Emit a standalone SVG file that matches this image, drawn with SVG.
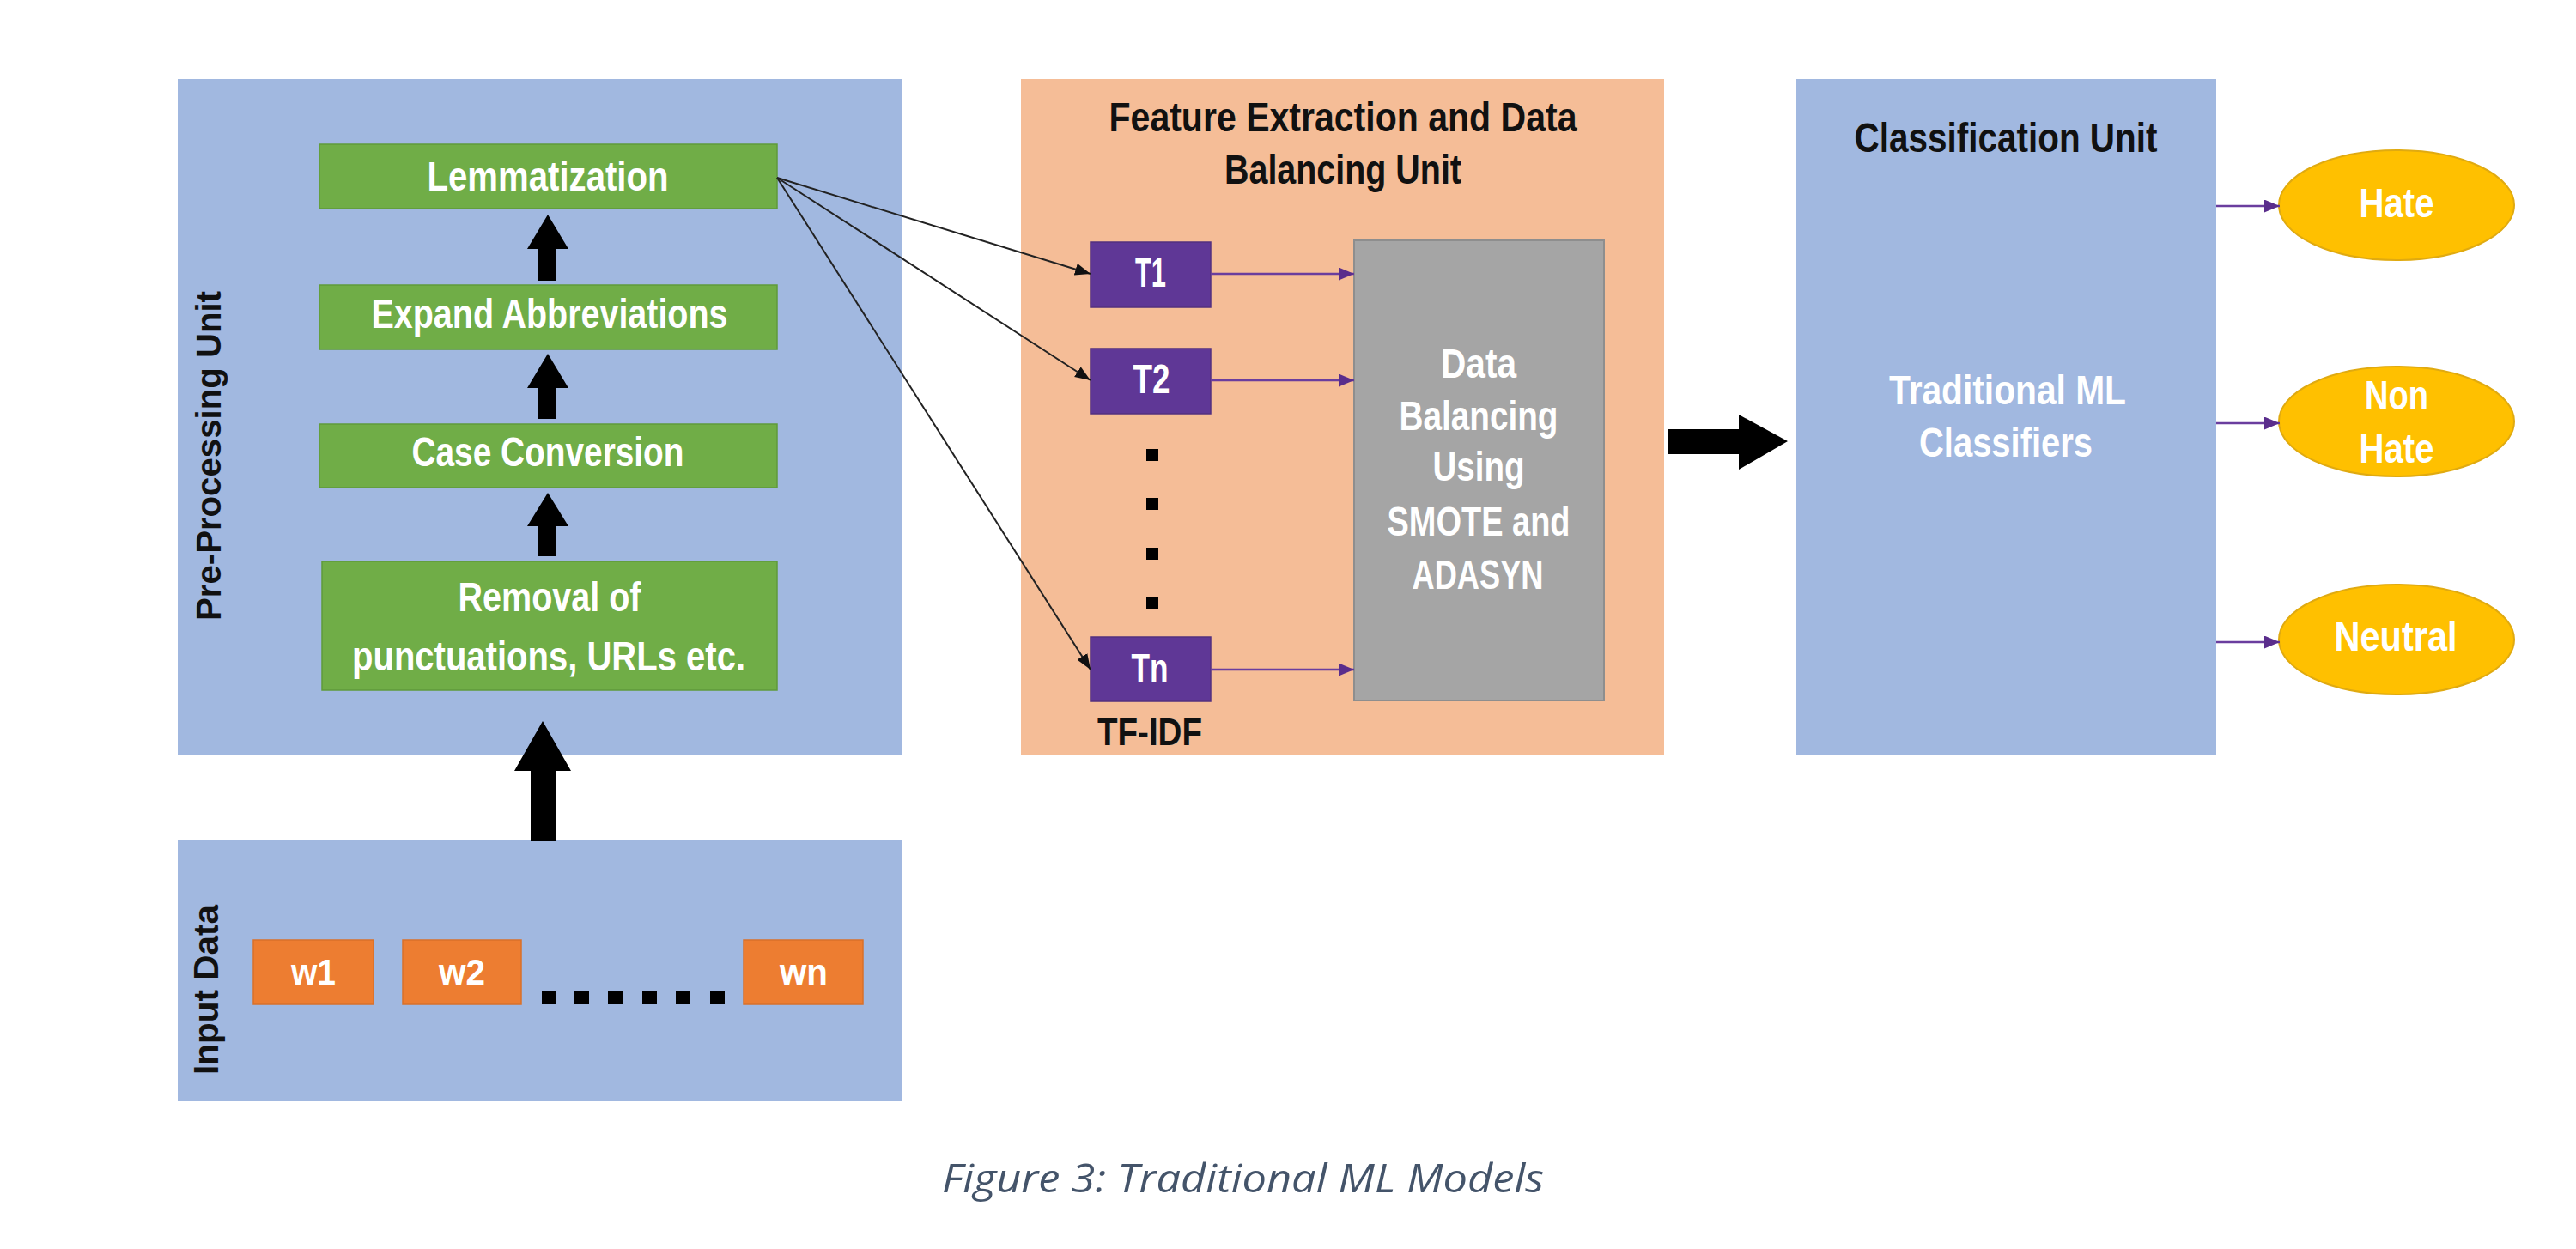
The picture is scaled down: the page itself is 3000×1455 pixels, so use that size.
<svg xmlns="http://www.w3.org/2000/svg" width="3000" height="1455" viewBox="0 0 3000 1455">
<style>
.unit{fill:#A1B8E0}
.feat{fill:#F5BD97}
.green{fill:#70AD47;stroke:#5F9A3B;stroke-width:1.5}
.word{fill:#ED7D31;stroke:#D9702A;stroke-width:1.5}
.tbox{fill:#5F3796;stroke:#53307F;stroke-width:1.5}
.gray{fill:#A5A5A5;stroke:#8E8E8E;stroke-width:2}
.oval{fill:#FFC000;stroke:#E0AA10;stroke-width:2}
.lbl{font-family:"Liberation Sans Narrow","Liberation Sans",Arial,sans-serif;font-weight:bold;font-size:48px;text-anchor:middle}
.w{fill:#FFFFFF}
.k{fill:#111111}
.vert{font-family:"Liberation Sans",Arial,sans-serif;font-weight:bold;font-size:41px;text-anchor:middle;fill:#111111}
.cap{font-family:"Open Sans","Liberation Sans",sans-serif;font-style:italic;font-size:46px;fill:#44546A;text-anchor:start}
.blk{fill:#000000}
.thin{stroke:#222222;stroke-width:2;fill:none}
.purp{stroke:#6A3D9E;stroke-width:2.5;fill:none}
</style>
<defs>
<marker id="ah" markerUnits="userSpaceOnUse" markerWidth="20" markerHeight="16" refX="18" refY="7" orient="auto">
<path d="M0,0 L18,7 L0,14 Z" fill="#111111"/>
</marker>
<marker id="ap" markerUnits="userSpaceOnUse" markerWidth="20" markerHeight="16" refX="18" refY="7.5" orient="auto">
<path d="M0,0 L18,7.5 L0,15 Z" fill="#5A2D8C"/>
</marker>
</defs>

<g id="preprocessing-unit">
<rect class="unit" x="207" y="92" width="844" height="788"/>
<text class="vert" transform="translate(257,531) rotate(-90)" textLength="384" lengthAdjust="spacingAndGlyphs">Pre-Processing Unit</text>
</g>

<g id="lemmatization">
<rect class="green" x="372" y="168" width="533" height="75"/>
<text class="lbl w" x="638" y="222" textLength="281" lengthAdjust="spacingAndGlyphs">Lemmatization</text>
</g>
<g id="expand-abbreviations">
<rect class="green" x="372" y="332" width="533" height="75"/>
<text class="lbl w" x="640" y="382" textLength="415" lengthAdjust="spacingAndGlyphs">Expand Abbreviations</text>
</g>
<g id="case-conversion">
<rect class="green" x="372" y="494" width="533" height="74"/>
<text class="lbl w" x="638" y="543" textLength="317" lengthAdjust="spacingAndGlyphs">Case Conversion</text>
</g>
<g id="removal">
<rect class="green" x="375" y="654" width="530" height="150"/>
<text class="lbl w" x="640" y="712" textLength="213" lengthAdjust="spacingAndGlyphs">Removal of</text>
<text class="lbl w" x="639" y="781" textLength="458" lengthAdjust="spacingAndGlyphs">punctuations, URLs etc.</text>
</g>

<g id="input-data">
<rect class="unit" x="207" y="978" width="844" height="305"/>
<text class="vert" transform="translate(254,1153) rotate(-90)" textLength="198" lengthAdjust="spacingAndGlyphs">Input Data</text>
<rect class="word" x="295" y="1095" width="140" height="75"/>
<text class="lbl w" x="365" y="1147" font-size="42" style="font-size:42px" textLength="52" lengthAdjust="spacingAndGlyphs">w1</text>
<rect class="word" x="469" y="1095" width="138" height="75"/>
<text class="lbl w" x="538" y="1147" style="font-size:42px" textLength="54" lengthAdjust="spacingAndGlyphs">w2</text>
<rect class="word" x="866" y="1095" width="139" height="75"/>
<text class="lbl w" x="936" y="1147" style="font-size:42px" textLength="56" lengthAdjust="spacingAndGlyphs">wn</text>
<rect class="blk" x="631" y="1154" width="17" height="16"/>
<rect class="blk" x="669" y="1154" width="17" height="16"/>
<rect class="blk" x="708" y="1154" width="17" height="16"/>
<rect class="blk" x="748" y="1154" width="17" height="16"/>
<rect class="blk" x="787" y="1154" width="17" height="16"/>
<rect class="blk" x="827" y="1154" width="17" height="16"/>
</g>

<g id="feature-extraction-unit">
<rect class="feat" x="1189" y="92" width="749" height="788"/>
<text class="lbl k" x="1564" y="153" textLength="545" lengthAdjust="spacingAndGlyphs">Feature Extraction and Data</text>
<text class="lbl k" x="1564" y="214" textLength="276" lengthAdjust="spacingAndGlyphs">Balancing Unit</text>
<rect class="blk" x="1335" y="523" width="14" height="14"/>
<rect class="blk" x="1335" y="580" width="14" height="14"/>
<rect class="blk" x="1335" y="638" width="14" height="14"/>
<rect class="blk" x="1335" y="695" width="14" height="14"/>
<text class="lbl k" x="1339" y="868" style="font-size:45px" textLength="122" lengthAdjust="spacingAndGlyphs">TF-IDF</text>
</g>
<g id="t1">
<rect class="tbox" x="1270" y="282" width="140" height="76"/>
<text class="lbl w" x="1340" y="334" textLength="36" lengthAdjust="spacingAndGlyphs">T1</text>
</g>
<g id="t2">
<rect class="tbox" x="1270" y="406" width="140" height="76"/>
<text class="lbl w" x="1341" y="458" textLength="43" lengthAdjust="spacingAndGlyphs">T2</text>
</g>
<g id="tn">
<rect class="tbox" x="1270" y="742" width="140" height="75"/>
<text class="lbl w" x="1339" y="795" textLength="43" lengthAdjust="spacingAndGlyphs">Tn</text>
</g>
<g id="data-balancing">
<rect class="gray" x="1577" y="280" width="291" height="536"/>
<text class="lbl w" x="1722" y="440" textLength="88" lengthAdjust="spacingAndGlyphs">Data</text>
<text class="lbl w" x="1722" y="501" textLength="185" lengthAdjust="spacingAndGlyphs">Balancing</text>
<text class="lbl w" x="1722" y="560" textLength="107" lengthAdjust="spacingAndGlyphs">Using</text>
<text class="lbl w" x="1722" y="624" textLength="213" lengthAdjust="spacingAndGlyphs">SMOTE and</text>
<text class="lbl w" x="1721" y="686" textLength="153" lengthAdjust="spacingAndGlyphs">ADASYN</text>
</g>

<g id="classification-unit">
<rect class="unit" x="2092" y="92" width="489" height="788"/>
<text class="lbl k" x="2336" y="177" textLength="353" lengthAdjust="spacingAndGlyphs">Classification Unit</text>
<text class="lbl w" x="2338" y="471" textLength="276" lengthAdjust="spacingAndGlyphs">Traditional ML</text>
<text class="lbl w" x="2336" y="532" textLength="202" lengthAdjust="spacingAndGlyphs">Classifiers</text>
</g>

<g id="hate">
<ellipse class="oval" cx="2791" cy="239" rx="137" ry="64"/>
<text class="lbl w" x="2791" y="253" textLength="87" lengthAdjust="spacingAndGlyphs">Hate</text>
</g>
<g id="non-hate">
<ellipse class="oval" cx="2791" cy="491" rx="137" ry="64"/>
<text class="lbl w" x="2791" y="477" textLength="74" lengthAdjust="spacingAndGlyphs">Non</text>
<text class="lbl w" x="2791" y="539" textLength="87" lengthAdjust="spacingAndGlyphs">Hate</text>
</g>
<g id="neutral">
<ellipse class="oval" cx="2791" cy="745" rx="137" ry="64"/>
<text class="lbl w" x="2790" y="758" textLength="143" lengthAdjust="spacingAndGlyphs">Neutral</text>
</g>

<g id="connectors">
<polygon class="blk" points="627,327 627,290 614,290 638,250 662,290 648,290 648,327"/>
<polygon class="blk" points="627,488 627,452 614,452 638,412 662,452 648,452 648,488"/>
<polygon class="blk" points="627,648 627,613 614,613 638,574 662,613 648,613 648,648"/>
<polygon class="blk" points="618,980 618,898 599,898 632,840 665,898 647,898 647,980"/>
<polygon class="blk" points="1942,500 2025,500 2025,483 2082,514 2025,547 2025,529 1942,529"/>
<line class="thin" x1="905" y1="207" x2="1270" y2="319" marker-end="url(#ah)"/>
<line class="thin" x1="905" y1="207" x2="1270" y2="443" marker-end="url(#ah)"/>
<line class="thin" x1="905" y1="207" x2="1270" y2="780" marker-end="url(#ah)"/>
<line class="purp" x1="1410" y1="319" x2="1577" y2="319" marker-end="url(#ap)"/>
<line class="purp" x1="1410" y1="443" x2="1577" y2="443" marker-end="url(#ap)"/>
<line class="purp" x1="1410" y1="780" x2="1577" y2="780" marker-end="url(#ap)"/>
<line class="purp" x1="2581" y1="240" x2="2655" y2="240" marker-end="url(#ap)"/>
<line class="purp" x1="2581" y1="493" x2="2655" y2="493" marker-end="url(#ap)"/>
<line class="purp" x1="2581" y1="748" x2="2655" y2="748" marker-end="url(#ap)"/>
</g>

<g id="caption">
<text class="cap" x="1097" y="1389" textLength="701" lengthAdjust="spacingAndGlyphs">Figure 3: Traditional ML Models</text>
</g>
</svg>
